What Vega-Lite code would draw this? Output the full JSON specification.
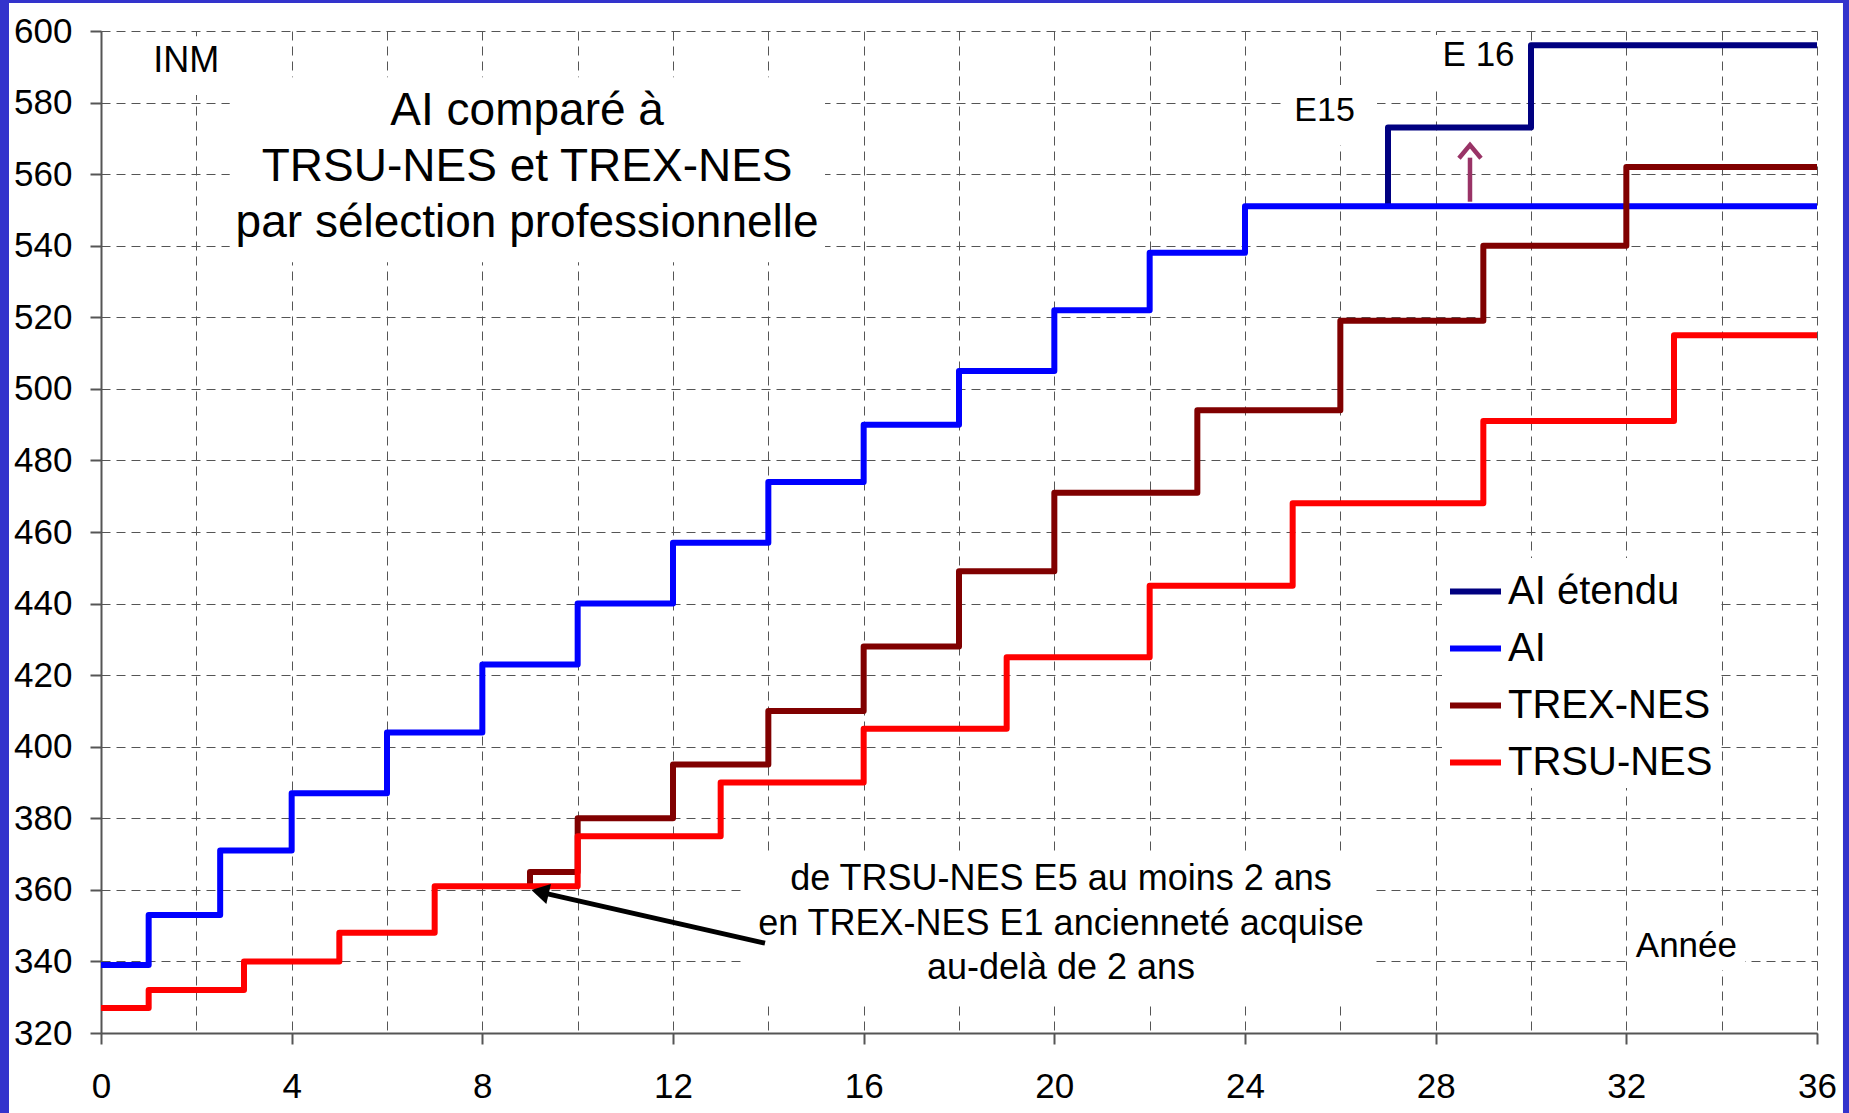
{
  "$schema": "https://vega.github.io/schema/vega-lite/v6.json",
  "width": 1716,
  "height": 1002,
  "autosize": "none",
  "padding": {"left": 101, "top": 31, "right": 32, "bottom": 80},
  "background": "white",
  "config": {"font": "Liberation Sans", "view": {"stroke": null}},
  "datasets": {
    "series": [
      {"serie": "AI étendu", "annee": 27, "inm": 551},
      {"serie": "AI étendu", "annee": 27, "inm": 573},
      {"serie": "AI étendu", "annee": 30, "inm": 596},
      {"serie": "AI étendu", "annee": 36, "inm": 596},
      {"serie": "AI", "annee": 0, "inm": 339},
      {"serie": "AI", "annee": 1, "inm": 353},
      {"serie": "AI", "annee": 2.5, "inm": 371},
      {"serie": "AI", "annee": 4, "inm": 387},
      {"serie": "AI", "annee": 6, "inm": 404},
      {"serie": "AI", "annee": 8, "inm": 423},
      {"serie": "AI", "annee": 10, "inm": 440},
      {"serie": "AI", "annee": 12, "inm": 457},
      {"serie": "AI", "annee": 14, "inm": 474},
      {"serie": "AI", "annee": 16, "inm": 490},
      {"serie": "AI", "annee": 18, "inm": 505},
      {"serie": "AI", "annee": 20, "inm": 522},
      {"serie": "AI", "annee": 22, "inm": 538},
      {"serie": "AI", "annee": 24, "inm": 551},
      {"serie": "AI", "annee": 36, "inm": 551},
      {"serie": "TREX-NES", "annee": 9, "inm": 361},
      {"serie": "TREX-NES", "annee": 9, "inm": 365},
      {"serie": "TREX-NES", "annee": 10, "inm": 380},
      {"serie": "TREX-NES", "annee": 12, "inm": 395},
      {"serie": "TREX-NES", "annee": 14, "inm": 410},
      {"serie": "TREX-NES", "annee": 16, "inm": 428},
      {"serie": "TREX-NES", "annee": 18, "inm": 449},
      {"serie": "TREX-NES", "annee": 20, "inm": 471},
      {"serie": "TREX-NES", "annee": 23, "inm": 494},
      {"serie": "TREX-NES", "annee": 26, "inm": 519},
      {"serie": "TREX-NES", "annee": 29, "inm": 540},
      {"serie": "TREX-NES", "annee": 32, "inm": 562},
      {"serie": "TREX-NES", "annee": 36, "inm": 562},
      {"serie": "TRSU-NES", "annee": 0, "inm": 327},
      {"serie": "TRSU-NES", "annee": 1, "inm": 332},
      {"serie": "TRSU-NES", "annee": 3, "inm": 340},
      {"serie": "TRSU-NES", "annee": 5, "inm": 348},
      {"serie": "TRSU-NES", "annee": 7, "inm": 361},
      {"serie": "TRSU-NES", "annee": 10, "inm": 375},
      {"serie": "TRSU-NES", "annee": 13, "inm": 390},
      {"serie": "TRSU-NES", "annee": 16, "inm": 405},
      {"serie": "TRSU-NES", "annee": 19, "inm": 425},
      {"serie": "TRSU-NES", "annee": 22, "inm": 445},
      {"serie": "TRSU-NES", "annee": 25, "inm": 468},
      {"serie": "TRSU-NES", "annee": 29, "inm": 491},
      {"serie": "TRSU-NES", "annee": 33, "inm": 515},
      {"serie": "TRSU-NES", "annee": 36, "inm": 515}
    ]
  },
  "layer": [
    {
      "data": {"values": [{}]},
      "mark": {"type": "rect", "color": "#3333CC", "clip": false},
      "encoding": {
        "x": {"datum": -2.5, "scale": {"domain": [0, 36], "nice": false, "zero": false}},
        "x2": {"datum": -1.93},
        "y": {"datum": 290, "scale": {"domain": [320, 600], "nice": false, "zero": false}},
        "y2": {"datum": 615}
      }
    },
    {
      "data": {"values": [{}]},
      "mark": {"type": "rect", "color": "#3333CC", "clip": false},
      "encoding": {
        "x": {"datum": -2.5},
        "x2": {"datum": 37},
        "y": {"datum": 607.82},
        "y2": {"datum": 615}
      }
    },
    {
      "data": {"values": [{}]},
      "mark": {"type": "rect", "color": "#3333CC", "clip": false},
      "encoding": {
        "x": {"datum": 36.545},
        "x2": {"datum": 37},
        "y": {"datum": 290},
        "y2": {"datum": 615}
      }
    },
    {
      "data": {"values": [{}]},
      "mark": {"type": "rect", "color": "white"},
      "encoding": {
        "x": {"datum": 2.7},
        "x2": {"datum": 15.19},
        "y": {"datum": 535.4},
        "y2": {"datum": 587.1}
      }
    },
    {
      "data": {"values": [{}]},
      "mark": {"type": "rect", "color": "white"},
      "encoding": {
        "x": {"datum": 0.99},
        "x2": {"datum": 2.6},
        "y": {"datum": 582.1},
        "y2": {"datum": 598.5}
      }
    },
    {
      "data": {"values": [{}]},
      "mark": {"type": "rect", "color": "white"},
      "encoding": {
        "x": {"datum": 24.84},
        "x2": {"datum": 26.77},
        "y": {"datum": 568.1},
        "y2": {"datum": 584.9}
      }
    },
    {
      "data": {"values": [{}]},
      "mark": {"type": "rect", "color": "white"},
      "encoding": {
        "x": {"datum": 27.92},
        "x2": {"datum": 29.87},
        "y": {"datum": 583.5},
        "y2": {"datum": 598.9}
      }
    },
    {
      "data": {"values": [{}]},
      "mark": {"type": "rect", "color": "white"},
      "encoding": {
        "x": {"datum": 32.05},
        "x2": {"datum": 34.49},
        "y": {"datum": 337.6},
        "y2": {"datum": 349.4}
      }
    },
    {
      "data": {"values": [{}]},
      "mark": {"type": "rect", "color": "white"},
      "encoding": {
        "x": {"datum": 13.43},
        "x2": {"datum": 26.73},
        "y": {"datum": 328.4},
        "y2": {"datum": 370.6}
      }
    },
    {
      "data": {"name": "series"},
      "mark": {"type": "line", "interpolate": "step-after", "strokeWidth": 6, "strokeJoin": "round", "strokeCap": "butt"},
      "encoding": {
        "x": {
          "field": "annee", "type": "quantitative",
          "scale": {"domain": [0, 36], "nice": false, "zero": false},
          "axis": {
            "title": null,
            "values": [0, 2, 4, 6, 8, 10, 12, 14, 16, 18, 20, 22, 24, 26, 28, 30, 32, 34, 36],
            "labelExpr": "datum.value % 4 === 0 ? datum.label : ''",
            "grid": true, "gridColor": "#555555", "gridDash": [9, 6], "gridWidth": 1,
            "domainColor": "#555555", "domainWidth": 2,
            "tickColor": "#555555", "tickWidth": 2, "tickSize": 11,
            "tickOpacity": {"condition": {"test": "datum.value % 4 === 0", "value": 1}, "value": 0},
            "labelFont": "Liberation Sans", "labelFontSize": 35, "labelColor": "black",
            "labelPadding": 25, "labelFlush": false, "labelOverlap": false
          }
        },
        "y": {
          "field": "inm", "type": "quantitative",
          "scale": {"domain": [320, 600], "nice": false, "zero": false},
          "axis": {
            "title": null,
            "values": [320, 330, 340, 350, 360, 370, 380, 390, 400, 410, 420, 430, 440, 450, 460, 470, 480, 490, 500, 510, 520, 530, 540, 550, 560, 570, 580, 590, 600],
            "labelExpr": "datum.value % 20 === 0 ? datum.label : ''",
            "grid": true, "gridColor": "#555555", "gridDash": [9, 6], "gridWidth": 1,
            "domainColor": "#555555", "domainWidth": 2,
            "tickColor": "#555555", "tickWidth": 2, "tickSize": 11,
            "tickOpacity": {"condition": {"test": "datum.value % 20 === 0", "value": 1}, "value": 0},
            "labelFont": "Liberation Sans", "labelFontSize": 35, "labelColor": "black",
            "labelPadding": 18, "labelFlush": false, "labelOverlap": false
          }
        },
        "color": {
          "field": "serie", "type": "nominal",
          "scale": {"domain": ["AI étendu", "AI", "TREX-NES", "TRSU-NES"], "range": ["#000080", "#0000FF", "#800000", "#FF0000"]},
          "legend": {
            "title": null, "orient": "none", "legendX": 1341, "legendY": 527,
            "fillColor": "white", "padding": 5,
            "symbolType": "stroke", "symbolSize": 2601, "symbolStrokeWidth": 6,
            "labelFont": "Liberation Sans", "labelFontSize": 40, "labelColor": "black",
            "labelOffset": 4, "rowPadding": 8, "labelLimit": 0
          }
        }
      }
    },
    {
      "data": {"values": [{}]},
      "mark": {"type": "rule", "color": "#993366", "strokeWidth": 4.5},
      "encoding": {
        "x": {"datum": 28.72},
        "y": {"datum": 552.3},
        "y2": {"datum": 564.6}
      }
    },
    {
      "data": {"values": [{}]},
      "mark": {"type": "point", "shape": "M-1,0.6L0,-0.6L1,0.6", "filled": false, "color": "#993366", "strokeWidth": 4.5, "size": 484, "opacity": 1},
      "encoding": {
        "x": {"datum": 28.72},
        "y": {"datum": 566.3}
      }
    },
    {
      "data": {"values": [{}]},
      "mark": {"type": "rule", "color": "black", "strokeWidth": 5},
      "encoding": {
        "x": {"datum": 13.93},
        "y": {"datum": 345.1},
        "x2": {"datum": 9.3},
        "y2": {"datum": 359.1}
      }
    },
    {
      "data": {"values": [{}]},
      "mark": {"type": "point", "shape": "triangle-right", "filled": true, "color": "black", "size": 420, "angle": 193, "opacity": 1},
      "encoding": {
        "x": {"datum": 9.21},
        "y": {"datum": 359.4}
      }
    },
    {
      "data": {"values": [{}]},
      "mark": {"type": "text", "fontSize": 46, "align": "center", "baseline": "middle", "lineHeight": 56, "color": "black"},
      "encoding": {
        "x": {"datum": 8.94},
        "y": {"datum": 577.6},
        "text": {"value": ["AI comparé à", "TRSU-NES et TREX-NES", "par sélection professionnelle"]}
      }
    },
    {
      "data": {"values": [{}]},
      "mark": {"type": "text", "fontSize": 36, "align": "center", "baseline": "middle", "color": "black"},
      "encoding": {
        "x": {"datum": 1.79},
        "y": {"datum": 591.6},
        "text": {"value": "INM"}
      }
    },
    {
      "data": {"values": [{}]},
      "mark": {"type": "text", "fontSize": 34, "align": "center", "baseline": "middle", "color": "black"},
      "encoding": {
        "x": {"datum": 25.67},
        "y": {"datum": 577.6},
        "text": {"value": "E15"}
      }
    },
    {
      "data": {"values": [{}]},
      "mark": {"type": "text", "fontSize": 35, "align": "center", "baseline": "middle", "color": "black"},
      "encoding": {
        "x": {"datum": 28.9},
        "y": {"datum": 593.3},
        "text": {"value": "E 16"}
      }
    },
    {
      "data": {"values": [{}]},
      "mark": {"type": "text", "fontSize": 35, "align": "center", "baseline": "middle", "color": "black"},
      "encoding": {
        "x": {"datum": 33.26},
        "y": {"datum": 344.4},
        "text": {"value": "Année"}
      }
    },
    {
      "data": {"values": [{}]},
      "mark": {"type": "text", "fontSize": 36, "align": "center", "baseline": "middle", "lineHeight": 44.5, "color": "black"},
      "encoding": {
        "x": {"datum": 20.14},
        "y": {"datum": 363.0},
        "text": {"value": ["de TRSU-NES E5 au moins 2 ans", "en TREX-NES E1 ancienneté acquise", "au-delà de 2 ans"]}
      }
    }
  ]
}
